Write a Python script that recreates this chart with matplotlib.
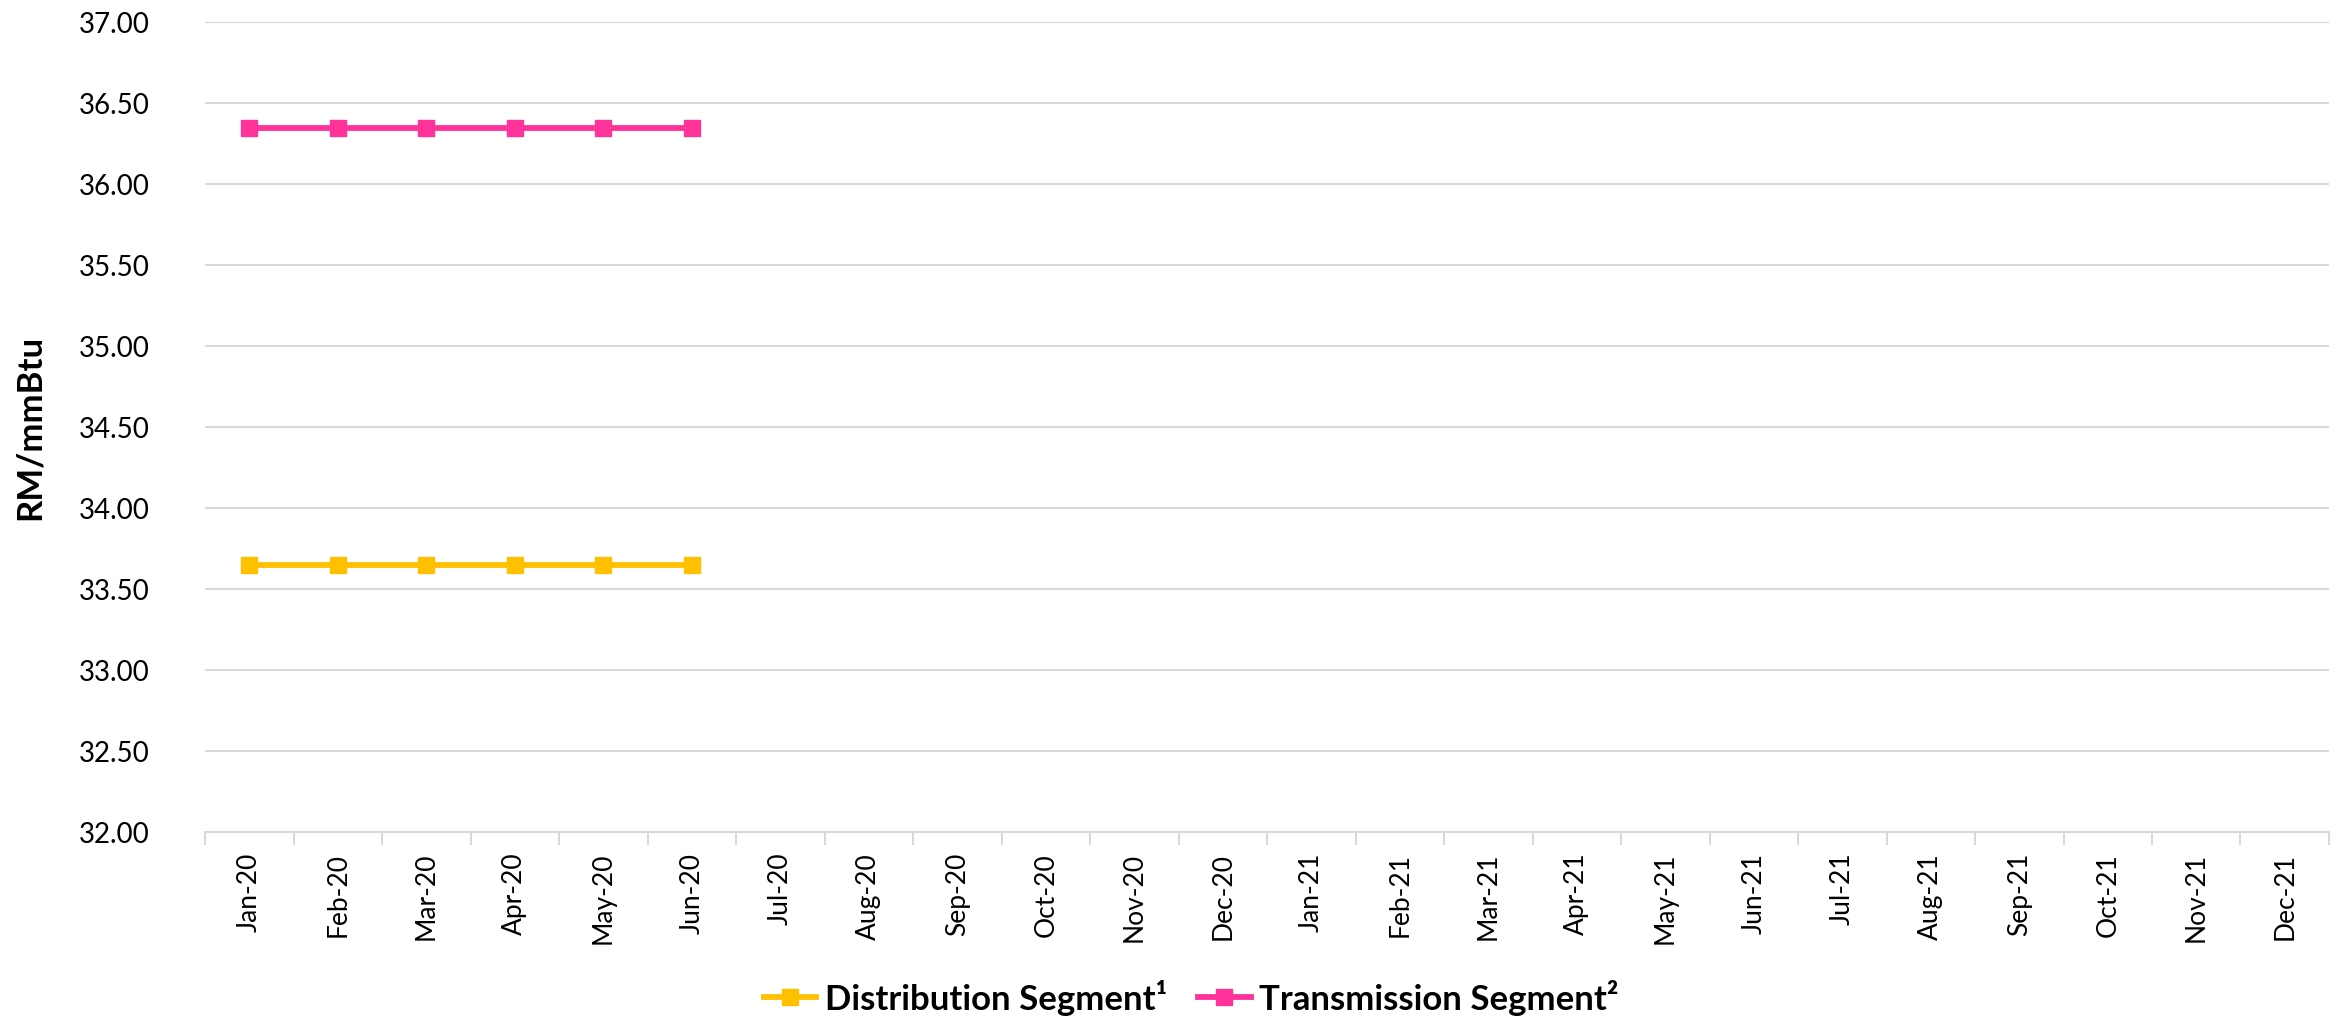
import numpy as np
import matplotlib.pyplot as plt

# month labels Jan-20 .. Dec-21
months = ['Jan-20', 'Feb-20', 'Mar-20', 'Apr-20', 'May-20', 'Jun-20',
          'Jul-20', 'Aug-20', 'Sep-20', 'Oct-20', 'Nov-20', 'Dec-20',
          'Jan-21', 'Feb-21', 'Mar-21', 'Apr-21', 'May-21', 'Jun-21',
          'Jul-21', 'Aug-21', 'Sep-21', 'Oct-21', 'Nov-21', 'Dec-21']
distribution = [33.65, 33.65, 33.65, 33.65, 33.65, 33.65]
transmission = [36.35, 36.35, 36.35, 36.35, 36.35, 36.35]

plt.rcParams['font.family'] = ['Lato', 'DejaVu Sans']

fig = plt.figure(figsize=(23.36, 10.19), dpi=100)
ax = fig.add_axes([0.0878, 0.1835, 0.9092, 0.7945])

x = np.arange(len(months))
ax.plot(x[:len(distribution)], distribution, color='#FFC000', lw=4.2,
        marker='s', ms=11.5, label='Distribution Segment¹')
ax.plot(x[:len(transmission)], transmission, color='#FF3399', lw=4.2,
        marker='s', ms=11.5, label='Transmission Segment²')

ax.set_xlim(-0.5, len(months) - 0.5)
ax.set_ylim(32, 37)
ax.set_yticks(np.arange(32, 37.01, 0.5))
ax.set_yticklabels([f'{v:.2f}' for v in np.arange(32, 37.01, 0.5)], fontsize=20)
ax.set_xticks(x)
ax.set_xticklabels(months, rotation=90, fontsize=19)
ax.set_xticks(np.arange(-0.5, len(months), 1), minor=True)
ax.tick_params(axis='x', which='major', length=0, pad=15)
ax.tick_params(axis='x', which='minor', length=9, width=1.5, color='#D9D9D9')
ax.tick_params(axis='y', length=0, pad=40)

ax.grid(axis='y', color='#D9D9D9', lw=1.5)
ax.set_axisbelow(True)
for s in ['top', 'right', 'left']:
    ax.spines[s].set_visible(False)
ax.spines['bottom'].set_color('#D9D9D9')
ax.spines['bottom'].set_linewidth(1.5)

ax.set_ylabel('RM/mmBtu', fontsize=25, fontweight='bold', labelpad=24)

fig.legend(loc='center', bbox_to_anchor=(0.51, 0.021), ncol=2, frameon=False,
           prop={'size': 25, 'weight': 'bold'}, handlelength=1.5, columnspacing=0.9,
           handletextpad=0.25)

fig.savefig('out.png', dpi=100)
